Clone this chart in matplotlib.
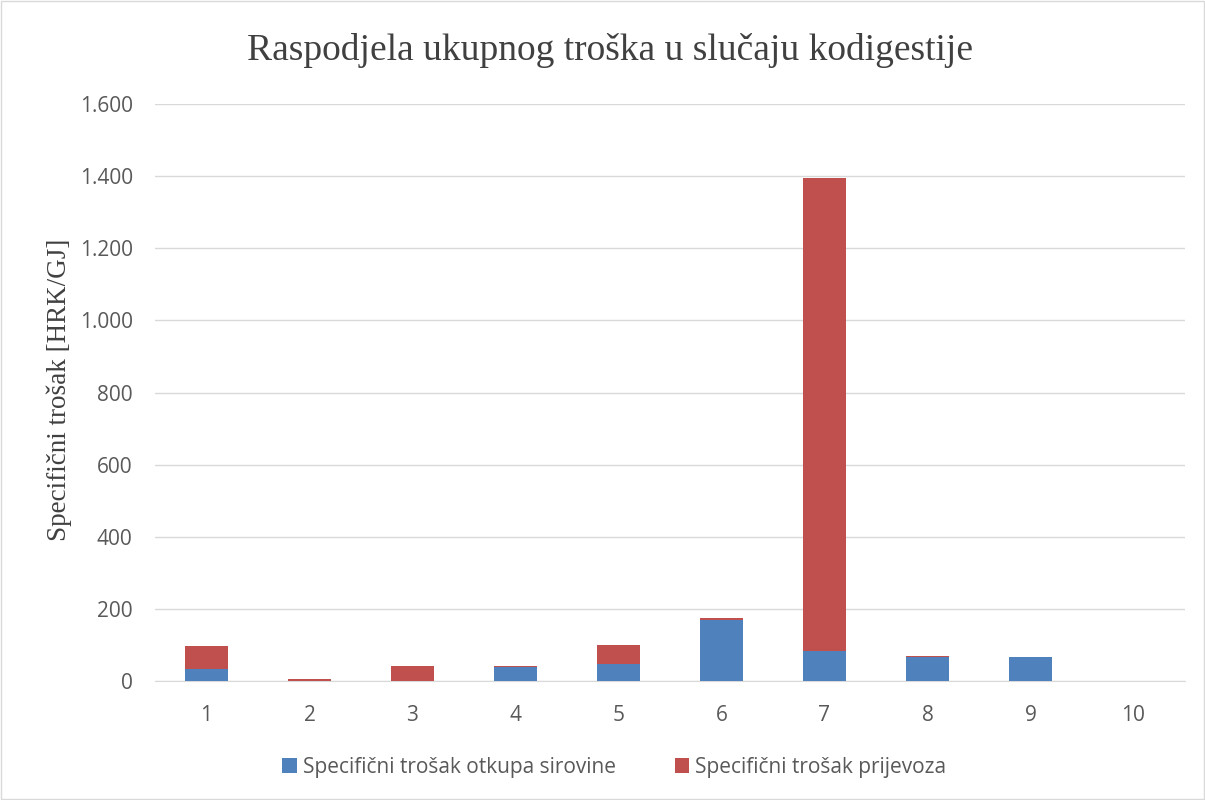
import matplotlib
matplotlib.use("Agg")
import matplotlib.pyplot as plt
from matplotlib.ticker import FuncFormatter
from matplotlib.patches import Rectangle

categories = ["1", "2", "3", "4", "5", "6", "7", "8", "9", "10"]
otkup = [32, 0, 0, 38, 46, 168, 83, 66, 66, 0]
prijevoz = [64, 6, 42, 3, 54, 7, 1312, 2, 0.5, 0]
yticks = [0, 200, 400, 600, 800, 1000, 1200, 1400, 1600]

blue = "#4F81BD"
red = "#C0504D"
tick_color = "#595959"

fig = plt.figure(figsize=(12.05, 8), dpi=100)
fig.patches.append(Rectangle((0.001, 0.001), 0.998, 0.998, transform=fig.transFigure,
                             fill=False, edgecolor="#d9d9d9", linewidth=1))
ax = fig.add_axes([0.1286, 0.14875, 0.8548, 0.72125])

x = list(range(1, len(categories) + 1))
ax.bar(x, otkup, width=0.41, color=blue, label="Specifični trošak otkupa sirovine", zorder=3)
ax.bar(x, prijevoz, width=0.41, bottom=otkup, color=red, label="Specifični trošak prijevoza", zorder=3)

ax.set_xlim(0.5, 10.5)
ax.set_ylim(0, 1600)
ax.set_yticks(yticks)
ax.set_xticks(x)
ax.set_xticklabels(categories)
ax.yaxis.set_major_formatter(FuncFormatter(lambda v, p: f"{int(v):,}".replace(",", ".")))
ax.grid(axis="y", color="#d9d9d9", linewidth=1, zorder=0)
for s in ["top", "right", "left"]:
    ax.spines[s].set_visible(False)
ax.spines["bottom"].set_color("#d9d9d9")
ax.tick_params(axis="both", length=0, labelsize=15, labelcolor=tick_color)
ax.tick_params(axis="y", pad=16)
ax.tick_params(axis="x", pad=17)
for lab in ax.get_xticklabels() + ax.get_yticklabels():
    lab.set_family(["Open Sans", "DejaVu Sans"])

fig.text(59 / 1205, 0.5125, "Specifični trošak [HRK/GJ]", family="Liberation Serif", fontsize=19.5,
         color="#404040", rotation=90, ha="center", va="center")
fig.text(0.506, 0.937, "Raspodjela ukupnog troška u slučaju kodigestije",
         family="Liberation Serif", fontsize=27, color="#404040", ha="center", va="center")

h, l = ax.get_legend_handles_labels()
leg = fig.legend(h, l, loc="center", bbox_to_anchor=(0.51, 0.041), ncol=2, frameon=False,
                 prop={"family": "Open Sans", "size": 15}, handlelength=0.7, handleheight=0.7,
                 columnspacing=2.8, handletextpad=0.3)
for t in leg.get_texts():
    t.set_color(tick_color)

fig.savefig("out.png", dpi=100)
